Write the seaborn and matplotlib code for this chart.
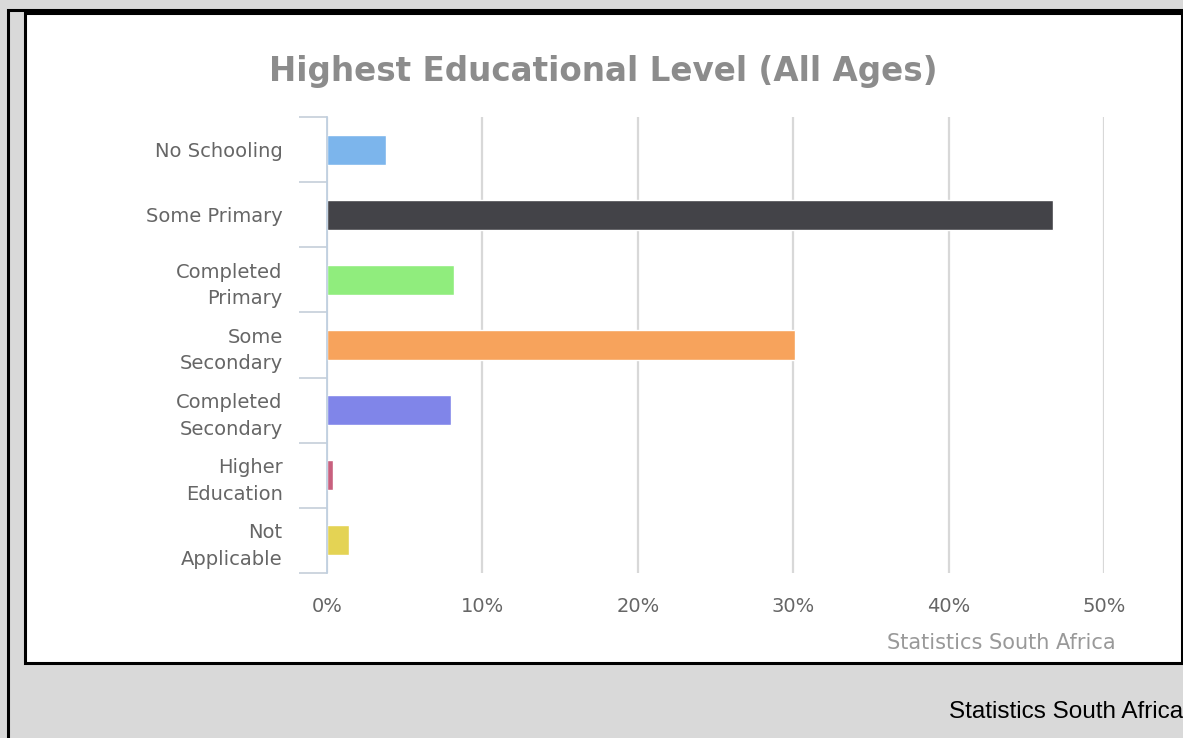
import matplotlib
matplotlib.use("Agg")
import matplotlib.pyplot as plt
import matplotlib.patches as mpatches
import pandas as pd
import seaborn as sns
from matplotlib.ticker import FixedLocator, PercentFormatter

categories = [
    "No Schooling",
    "Some Primary",
    "Completed\nPrimary",
    "Some\nSecondary",
    "Completed\nSecondary",
    "Higher\nEducation",
    "Not\nApplicable",
]
shares = [3.8, 46.7, 8.2, 30.1, 8.0, 0.4, 1.4]
bar_colors = ["#7cb5ec", "#434348", "#90ed7d", "#f7a35c", "#8085e9", "#c8607e", "#e4d354"]
x_ticks = [0, 10, 20, 30, 40, 50]

df = pd.DataFrame({"level": categories, "share": shares})

sns.set_theme(style="white")
plt.rcParams["font.family"] = ["DejaVu Sans"]

W, H = 1183, 738
fig = plt.figure(figsize=(W / 100, H / 100), dpi=100, facecolor="#d9d9d9")


def px_box(x0, y0, x1, y1):
    # pixel box (top-left origin) -> figure fraction rect
    return (x0 / W, 1 - y1 / H, (x1 - x0) / W, (y1 - y0) / H)


# outer frame (left/top edges visible) and white chart panel
x, y, w, h = px_box(7.5, 10, 1200, 760)
fig.patches.append(mpatches.Rectangle((x, y), w, h, transform=fig.transFigure,
                                      facecolor="none", edgecolor="black", lw=2.2, zorder=-2))
x, y, w, h = px_box(25, 12.5, 1181.5, 663)
fig.patches.append(mpatches.Rectangle((x, y), w, h, transform=fig.transFigure,
                                      facecolor="white", edgecolor="black", lw=2.2, zorder=-1))

ax = fig.add_axes(px_box(327, 117, 1104, 573))
ax.set_facecolor("none")

sns.barplot(data=df, x="share", y="level", hue="level", palette=bar_colors,
            orient="h", width=0.46, legend=False, ax=ax, saturation=1)

ax.set_xlim(0, 50)
ax.set_ylim(6.5, -0.5)
ax.xaxis.set_major_locator(FixedLocator(x_ticks))
ax.xaxis.set_major_formatter(PercentFormatter(decimals=0))
ax.grid(axis="x", color="#d8d8d8", lw=1.6)
ax.set_axisbelow(True)

for side in ["top", "right", "bottom"]:
    ax.spines[side].set_visible(False)
ax.spines["left"].set_color("#c0d0e0")
ax.spines["left"].set_linewidth(1.3)

ax.set_xlabel("")
ax.set_ylabel("")
ax.tick_params(axis="x", length=0, pad=17, labelsize=14, labelcolor="#666666")
ax.tick_params(axis="y", which="major", length=0, pad=32, labelsize=14, labelcolor="#666666")
for lbl in ax.get_yticklabels():
    lbl.set_linespacing(1.5)

# short separators between the categories
ax.yaxis.set_minor_locator(FixedLocator([i - 0.5 for i in range(len(categories) + 1)]))
ax.tick_params(axis="y", which="minor", left=True, length=20, width=1.1, color="#c0cad6")

fig.text(603 / W, 1 - 72 / H, "Highest Educational Level (All Ages)", ha="center", va="center",
         fontsize=23.5, fontweight="bold", color="#8c8c8c")
fig.text(1116 / W, 1 - 643 / H, "Statistics South Africa", ha="right", va="center",
         fontsize=15, color="#999999")
fig.text(1183 / W, 1 - 712 / H, "Statistics South Africa", ha="right", va="center",
         fontsize=17.5, color="black", family=["Liberation Sans Narrow", "Liberation Sans", "DejaVu Sans"])

fig.savefig("out.png", dpi=100, facecolor=fig.get_facecolor())
